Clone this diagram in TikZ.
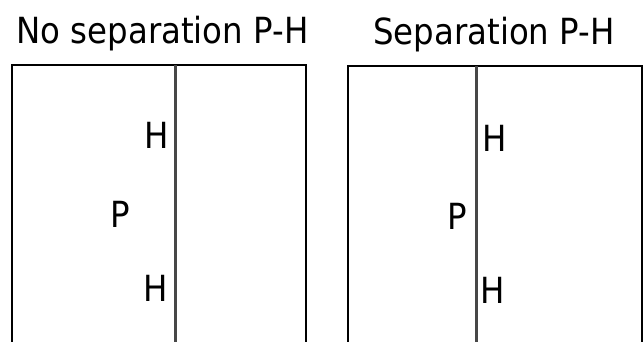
\documentclass[tikz,border=0pt]{standalone}
\usepackage{fontspec}
\setmainfont{DejaVu Sans Condensed}
\begin{document}
\begin{tikzpicture}[x=1pt,y=-1pt,
  frame/.style={line width=2pt,black},
  divider/.style={line width=3.2pt,black!72},
  lbl/.style={inner sep=0pt,anchor=base,font=\fontsize{36}{40}\selectfont}]
\useasboundingbox (0,0) rectangle (643,341);
% titles
\node[lbl] (t1) at (162.5,43) {No separation P-H};
\node[lbl] (t2) at (494,44) {Separation P-H};
% left panel: open-bottom box with a divider
\draw[frame] (12,345) -- (12,65) -- (306,65) -- (306,345);
\draw[divider] (175.5,65) -- (175.5,345);
\node[lbl] (h1) at (157,148) {H};
\node[lbl] (p1) at (120.5,227) {P};
\node[lbl] (h2) at (156,301) {H};
% right panel
\draw[frame] (348,345) -- (348,66) -- (642,66) -- (642,345);
\draw[divider] (476.5,66) -- (476.5,345);
\node[lbl] (h3) at (495,151) {H};
\node[lbl] (p2) at (457.5,229) {P};
\node[lbl] (h4) at (493,303) {H};
\end{tikzpicture}
\end{document}
